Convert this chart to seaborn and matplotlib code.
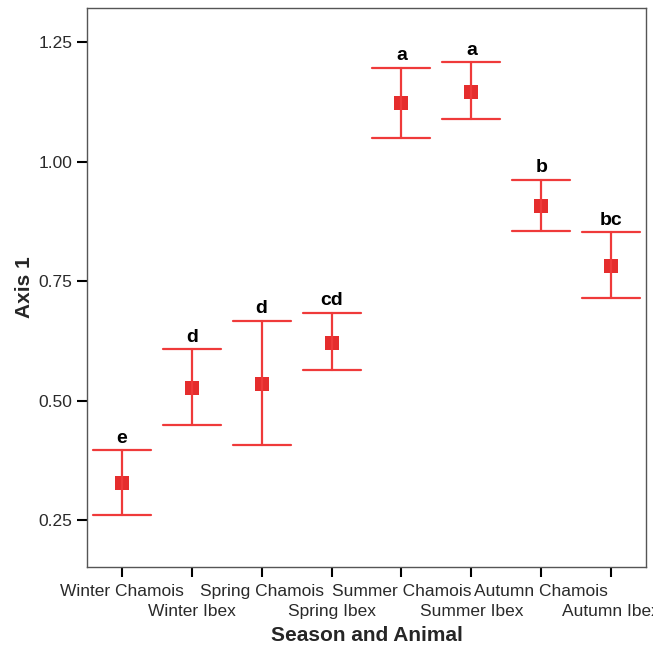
import numpy as np
import pandas as pd
import matplotlib
matplotlib.use("Agg")
import matplotlib.pyplot as plt
import seaborn as sns

groups = ["Winter Chamois", "Winter Ibex", "Spring Chamois", "Spring Ibex",
          "Summer Chamois", "Summer Ibex", "Autumn Chamois", "Autumn Ibex"]
means = [0.327, 0.526, 0.535, 0.621, 1.122, 1.145, 0.907, 0.782]
lower = [0.260, 0.449, 0.407, 0.564, 1.049, 1.088, 0.854, 0.715]
upper = [0.396, 0.607, 0.667, 0.684, 1.196, 1.208, 0.962, 0.852]
letters = ["e", "d", "d", "cd", "a", "a", "b", "bc"]

# long table: each group carries its lower bound, mean and upper bound;
# the median gives the mean and the min/max give the interval
rows = []
for g, lo, m, hi in zip(groups, lower, means, upper):
    for v in (lo, m, hi):
        rows.append({"group": g, "value": v})
df = pd.DataFrame(rows)

sns.set_style("white")
plt.rcParams["font.family"] = ["Liberation Sans", "DejaVu Sans"]

fig = plt.figure(figsize=(6.53, 6.52), dpi=100)
ax = fig.add_axes([0.1332, 0.1304, 0.8561, 0.8573])

sns.pointplot(data=df, x="group", y="value", order=groups,
              estimator="median", errorbar=lambda v: (v.min(), v.max()),
              capsize=0.83, linestyle="none", marker="s", markersize=10.5,
              markeredgewidth=0, color="#e52d2d",
              err_kws={"linewidth": 1.6, "color": "#ef3a3a"}, ax=ax)

for i, (hi, t) in enumerate(zip(upper, letters)):
    ax.annotate(t, (i, hi), xytext=(0, 2.5), textcoords="offset points",
                ha="center", va="bottom", fontsize=14, fontweight="bold",
                color="black")

ax.set_xlim(-0.5, 7.5)
ax.set_ylim(0.152, 1.321)
ax.set_yticks([0.25, 0.50, 0.75, 1.00, 1.25])
ax.set_yticklabels(["0.25", "0.50", "0.75", "1.00", "1.25"])
ax.set_xticks(range(len(groups)))
ax.set_xticklabels([g if i % 2 == 0 else "\n" + g for i, g in enumerate(groups)])

ax.tick_params(axis="both", which="major", direction="out", length=7,
               width=1.5, color="black", labelsize=12.5, labelcolor="#2a2a2a",
               pad=3.5, left=True, bottom=True)
ax.tick_params(axis="x", pad=5)
for lbl in ax.get_xticklabels():
    lbl.set_linespacing(1.45)

for s in ax.spines.values():
    s.set_color("#555555")
    s.set_linewidth(1.0)

ax.set_xlabel("Season and Animal", fontsize=15, fontweight="bold", labelpad=5)
ax.set_ylabel("Axis 1", fontsize=15, fontweight="bold", labelpad=3)

fig.savefig("out.png", dpi=100)
